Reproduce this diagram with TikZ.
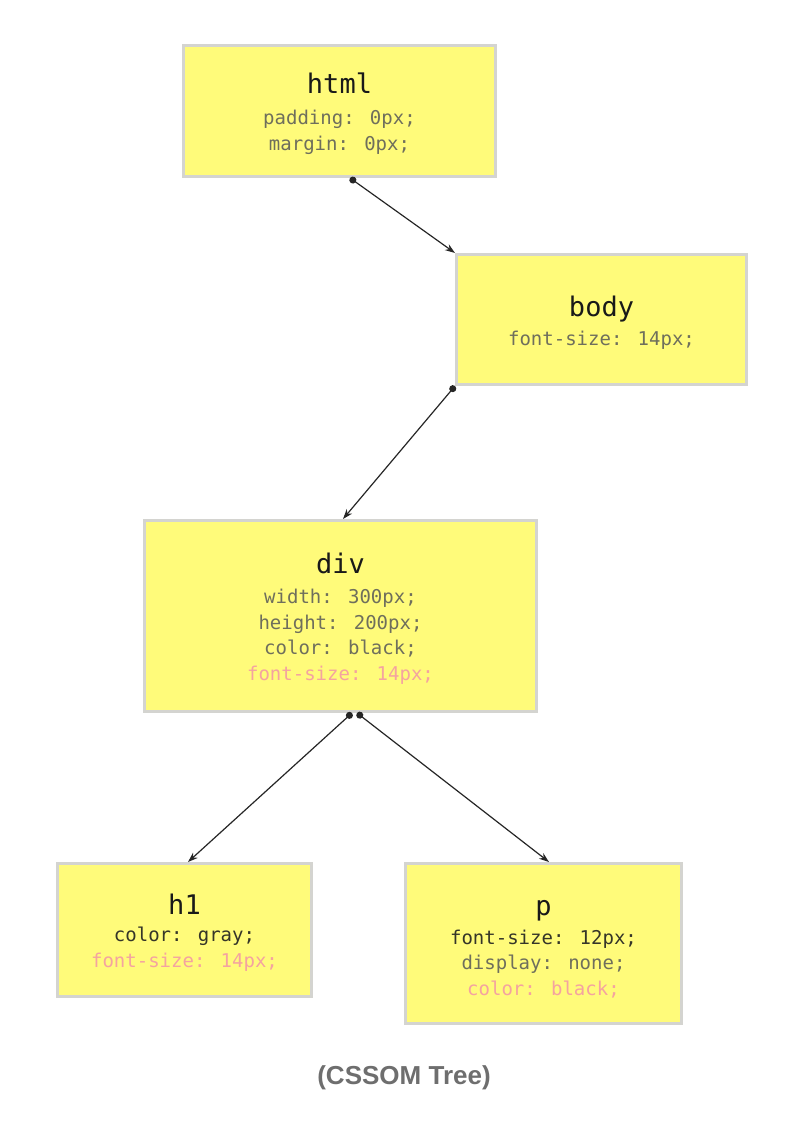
\documentclass[tikz,border=0pt]{standalone}
\usepackage{fontspec}
\setmainfont{Liberation Sans}
\newfontfamily\cssmono{DejaVu Sans Mono}
\usetikzlibrary{arrows.meta,calc}
\definecolor{boxfill}{HTML}{FFFB7A}
\definecolor{boxedge}{HTML}{D4D4D0}
\definecolor{propgray}{HTML}{6F6F5C}
\definecolor{propdark}{HTML}{353528}
\definecolor{inherit}{HTML}{F4A3A0}
\definecolor{capgray}{HTML}{6E6E6E}
\newcommand{\nodetitle}[1]{{\fontsize{27}{27}\selectfont\color{black!90}\rule{0pt}{26pt}#1}}

\begin{document}
\begin{tikzpicture}[x=1pt, y=-1pt, >={Stealth[length=10pt,width=7pt]},
  cssbox/.style={draw=boxedge, line width=3pt, fill=boxfill, align=center,
    inner sep=0pt, text=propgray, font=\cssmono\fontsize{19}{25.5}\selectfont},
  link/.style={{Circle[length=7pt]}->, line width=1.2pt, black!85}]

  \fill[white] (0,0) rectangle (790,1132);
  \useasboundingbox (0,0) rectangle (790,1132);

  % ---- the CSSOM boxes ----
  \node[cssbox, minimum width=312pt, minimum height=131pt] (html) at (339.5,111)
    {\nodetitle{html}\\[5.5pt] padding: 0px;\\ margin: 0px;};
  \node[cssbox, minimum width=290pt, minimum height=130pt] (body) at (601.5,319.5)
    {\nodetitle{body}\\[3.5pt] font-size: 14px;};
  \node[cssbox, minimum width=392pt, minimum height=191pt] (div) at (340.5,616)
    {\nodetitle{div}\\[4.5pt] width: 300px;\\ height: 200px;\\ color: black;\\
     {\color{inherit}font-size: 14px;}};
  \node[cssbox, minimum width=254pt, minimum height=133pt] (hone) at (184.5,930)
    {\nodetitle{h1}\\[1.5pt] {\color{propdark}color: gray;}\\
     {\color{inherit}font-size: 14px;}};
  \node[cssbox, minimum width=276pt, minimum height=160pt] (para) at (543.5,943.5)
    {\nodetitle{p}\\[3.5pt] {\color{propdark}font-size: 12px;}\\ display: none;\\
     {\color{inherit}color: black;}};

  % ---- parent to child links ----
  \draw[link] ([xshift=10.5pt]html.south) -- (body.north west);
  \draw[link] (body.south west) -- ([xshift=2.5pt]div.north);
  \draw[link] ([xshift=11.5pt]div.south) -- ([xshift=3.5pt]hone.north);
  \draw[link] ([xshift=16.5pt]div.south) -- ([xshift=5.5pt]para.north);

  % ---- caption ----
  \node[font=\bfseries\fontsize{26}{26}\selectfont, text=capgray] (caption)
    at (404,1078) {(CSSOM Tree)};

\end{tikzpicture}
\end{document}
